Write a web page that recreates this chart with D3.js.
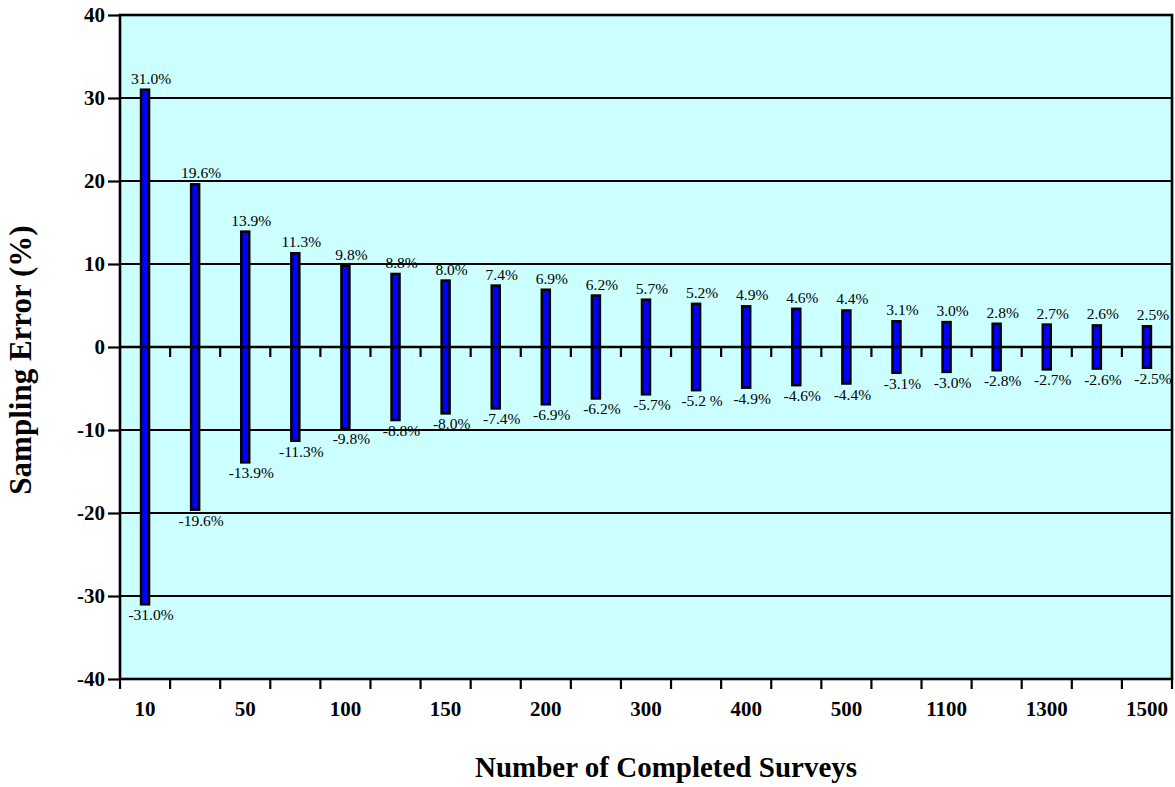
<!DOCTYPE html>
<html>
<head>
<meta charset="utf-8">
<script src="https://cdn.jsdelivr.net/npm/d3@7/dist/d3.min.js"></script>
<style>
  html, body { margin: 0; padding: 0; background: #ffffff; }
  svg { display: block; }
  text { font-family: "Times New Roman", "Liberation Serif", serif; fill: #000; }
</style>
</head>
<body>
<svg id="chart" width="1175" height="787"></svg>
<script>
// Sample sizes (number of completed surveys)
const categories = ["10", "25", "50", "75", "100", "125", "150", "175", "200", "250", "300",
                    "350", "400", "450", "500", "1000", "1100", "1200", "1300", "1400", "1500"];
// Sampling error (+/- %) for each sample size
const errorValues = [31.0, 19.6, 13.9, 11.3, 9.8, 8.8, 8.0, 7.4, 6.9, 6.2, 5.7,
                     5.2, 4.9, 4.6, 4.4, 3.1, 3.0, 2.8, 2.7, 2.6, 2.5];
// Value labels printed above and below each bar
const upperLabels = ["31.0%", "19.6%", "13.9%", "11.3%", "9.8%", "8.8%", "8.0%", "7.4%", "6.9%", "6.2%", "5.7%",
                     "5.2%", "4.9%", "4.6%", "4.4%", "3.1%", "3.0%", "2.8%", "2.7%", "2.6%", "2.5%"];
const lowerLabels = ["-31.0%", "-19.6%", "-13.9%", "-11.3%", "-9.8%", "-8.8%", "-8.0%", "-7.4%", "-6.9%", "-6.2%", "-5.7%",
                     "-5.2 %", "-4.9%", "-4.6%", "-4.4%", "-3.1%", "-3.0%", "-2.8%", "-2.7%", "-2.6%", "-2.5%"];
// Category labels shown on the horizontal axis
const xTickLabels = ["10", "50", "100", "150", "200", "300", "400", "500", "1100", "1300", "1500"];
// Vertical axis ticks
const yTickValues = [-40, -30, -20, -10, 0, 10, 20, 30, 40];

const svg = d3.select("#chart");
const plot = { left: 120, right: 1172, top: 15, bottom: 679 };

const x = d3.scaleBand().domain(categories).range([plot.left, plot.right]).padding(0);
const y = d3.scaleLinear().domain([-40, 40]).range([plot.bottom, plot.top]);

// Plot background
svg.append("rect")
  .attr("x", plot.left).attr("y", plot.top)
  .attr("width", plot.right - plot.left).attr("height", plot.bottom - plot.top)
  .attr("fill", "#ccffff");

// Horizontal gridlines
svg.append("g").selectAll("line")
  .data(yTickValues.filter(v => v !== 0 && Math.abs(v) !== 40))
  .join("line")
  .attr("x1", plot.left).attr("x2", plot.right)
  .attr("y1", d => y(d)).attr("y2", d => y(d))
  .attr("stroke", "#000").attr("stroke-width", 2);

// Floating bars spanning -error .. +error
const barW = 8;
svg.append("g").selectAll("rect")
  .data(categories)
  .join("rect")
  .attr("x", (d) => x(d) + x.bandwidth() / 2 - barW / 2)
  .attr("y", (d, i) => y(errorValues[i]))
  .attr("width", barW)
  .attr("height", (d, i) => y(-errorValues[i]) - y(errorValues[i]))
  .attr("fill", "#0000ff")
  .attr("stroke", "#000")
  .attr("stroke-width", 2.5);

// Zero line with category separators hanging below it
svg.append("line")
  .attr("x1", plot.left).attr("x2", plot.right)
  .attr("y1", y(0)).attr("y2", y(0))
  .attr("stroke", "#000").attr("stroke-width", 2.6);
svg.append("g").selectAll("line")
  .data(categories.slice(1))
  .join("line")
  .attr("x1", d => x(d)).attr("x2", d => x(d))
  .attr("y1", y(0)).attr("y2", y(0) + 10)
  .attr("stroke", "#000").attr("stroke-width", 2.2);

// Plot frame
svg.append("rect")
  .attr("x", plot.left).attr("y", plot.top)
  .attr("width", plot.right - plot.left).attr("height", plot.bottom - plot.top)
  .attr("fill", "none").attr("stroke", "#000").attr("stroke-width", 2.6);

// Vertical axis
const yAxis = svg.append("g")
  .attr("transform", `translate(${plot.left},0)`)
  .call(d3.axisLeft(y).tickValues(yTickValues).tickSize(12).tickPadding(3).tickFormat(d => String(d)));
yAxis.select(".domain").remove();
yAxis.selectAll(".tick line").attr("stroke", "#000").attr("stroke-width", 2.2);
yAxis.selectAll(".tick text")
  .style("font-family", "'Times New Roman', 'Liberation Serif', serif")
  .style("font-size", "21px").style("font-weight", "bold").attr("fill", "#000");

// Horizontal axis: separators at category boundaries, labels on alternate categories
const boundaries = categories.map(c => x(c)).concat([plot.right]);
svg.append("g").selectAll("line")
  .data(boundaries)
  .join("line")
  .attr("x1", d => d).attr("x2", d => d)
  .attr("y1", plot.bottom).attr("y2", plot.bottom + 10)
  .attr("stroke", "#000").attr("stroke-width", 2.2);
svg.append("g").selectAll("text")
  .data(xTickLabels)
  .join("text")
  .attr("x", d => x(d) + x.bandwidth() / 2)
  .attr("y", plot.bottom + 37)
  .attr("text-anchor", "middle")
  .style("font-size", "21px").style("font-weight", "bold")
  .text(d => d);

// Value labels
const labelDx = 6;
svg.append("g").selectAll("text")
  .data(categories)
  .join("text")
  .attr("x", d => x(d) + x.bandwidth() / 2 + labelDx)
  .attr("y", (d, i) => y(errorValues[i]) - 6)
  .attr("text-anchor", "middle")
  .style("font-size", "15.5px")
  .text((d, i) => upperLabels[i]);
svg.append("g").selectAll("text")
  .data(categories)
  .join("text")
  .attr("x", d => x(d) + x.bandwidth() / 2 + labelDx)
  .attr("y", (d, i) => y(-errorValues[i]) + 16)
  .attr("text-anchor", "middle")
  .style("font-size", "15.5px")
  .text((d, i) => lowerLabels[i]);

// Axis titles
svg.append("text")
  .attr("x", 666)
  .attr("y", 777)
  .attr("text-anchor", "middle")
  .style("font-size", "29px").style("font-weight", "bold")
  .text("Number of Completed Surveys");
svg.append("text")
  .attr("transform", "translate(31,360) rotate(-90)")
  .attr("text-anchor", "middle")
  .style("font-size", "31px").style("font-weight", "bold")
  .text("Sampling Error (%)");
</script>
</body>
</html>
